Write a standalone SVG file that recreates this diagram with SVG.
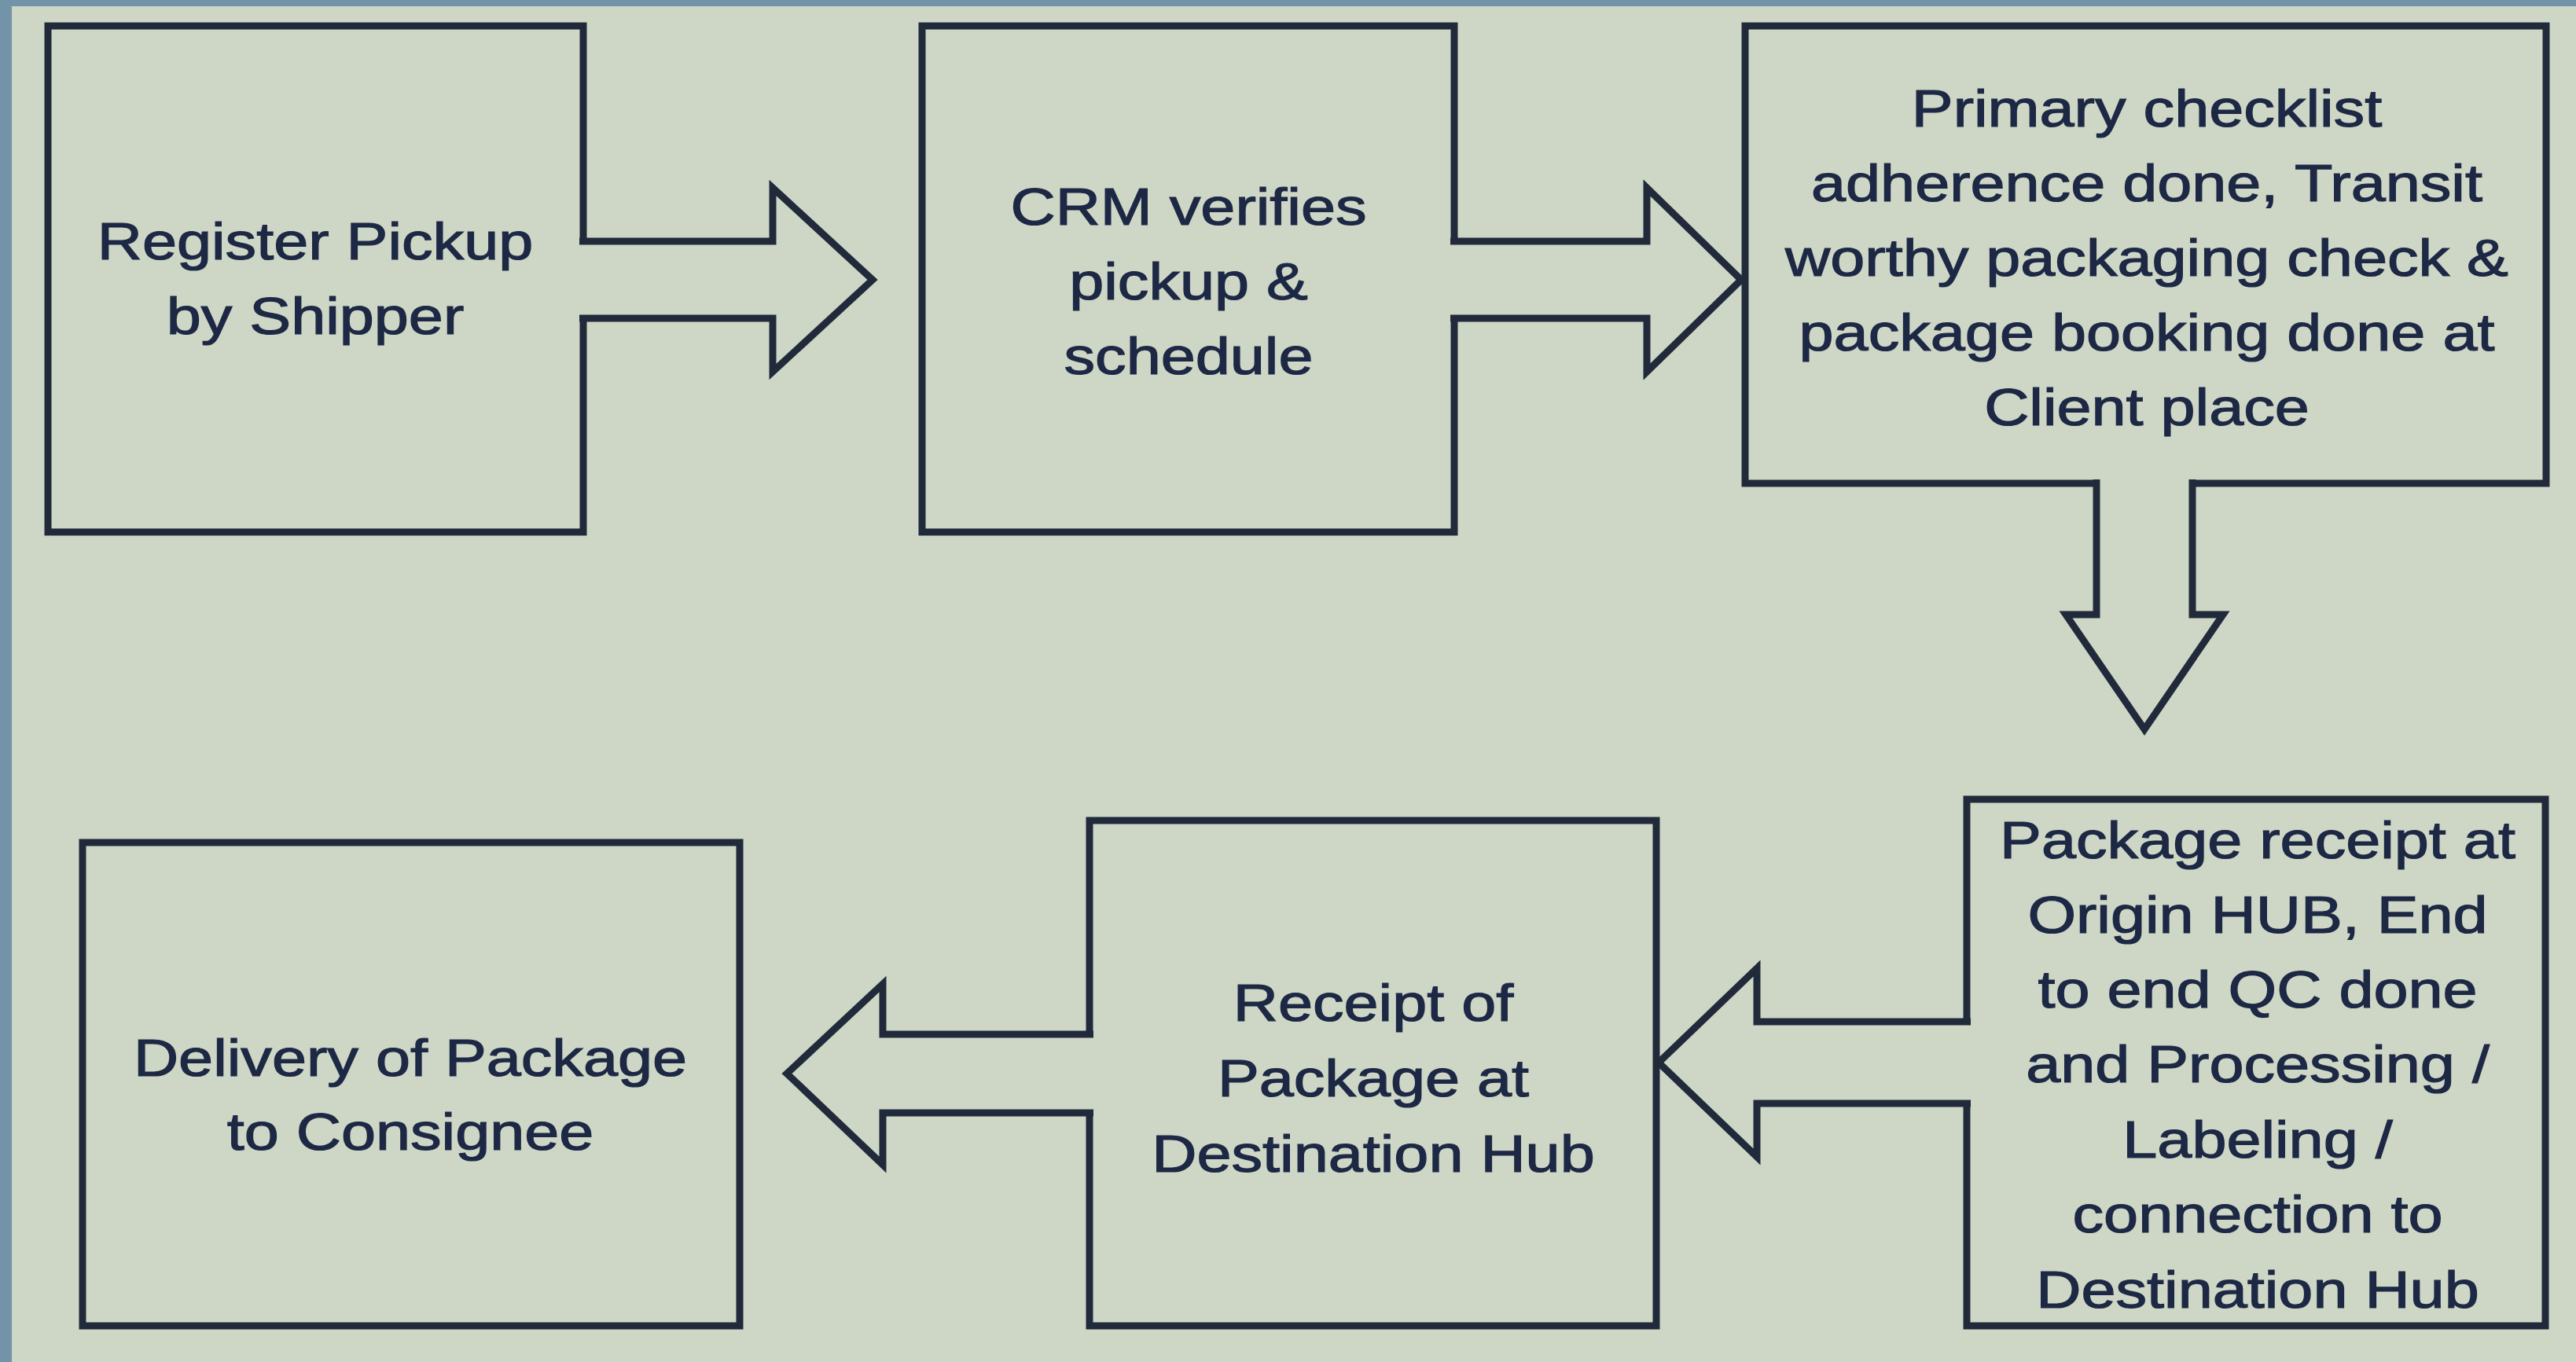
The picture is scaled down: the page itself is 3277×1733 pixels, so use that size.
<svg xmlns="http://www.w3.org/2000/svg" width="3277" height="1733" viewBox="0 0 3277 1733">
<style>
.box{fill:none;stroke:#212a3b;stroke-width:9;stroke-linejoin:miter}
.arr{fill:#ced6c6;stroke:#212a3b;stroke-width:9;stroke-linejoin:miter}
.t{font-family:"Liberation Sans",Arial,sans-serif;font-size:66px;fill:#1d2845;stroke:#1d2845;stroke-width:1.2;text-anchor:middle}
</style>
<rect x="0" y="0" width="3277" height="1733" fill="#ced6c6"/>
<rect x="0" y="0" width="3277" height="8" fill="#7393a8"/>
<rect x="0" y="0" width="15" height="1733" fill="#7393a8"/>

<g id="node-register">
<rect class="box" x="61" y="33" width="681" height="644"/>
<g transform="translate(401 0) scale(1.2 1)"><text class="t" x="0" y="330">Register Pickup</text><text class="t" x="0" y="425">by Shipper</text></g>
</g>
<g id="node-crm">
<rect class="box" x="1173" y="33" width="677" height="644"/>
<g transform="translate(1512 0) scale(1.2 1)"><text class="t" x="0" y="286">CRM verifies</text><text class="t" x="0" y="381">pickup &amp;</text><text class="t" x="0" y="476">schedule</text></g>
</g>
<g id="node-checklist">
<rect class="box" x="2220" y="33" width="1019" height="582"/>
<g transform="translate(2731 0) scale(1.2 1)"><text class="t" x="0" y="161">Primary checklist</text><text class="t" x="0" y="256">adherence done, Transit</text><text class="t" x="0" y="351">worthy packaging check &amp;</text><text class="t" x="0" y="446">package booking done at</text><text class="t" x="0" y="541">Client place</text></g>
</g>
<g id="node-origin-hub">
<rect class="box" x="2502" y="1017" width="736" height="670"/>
<g transform="translate(2872 0) scale(1.2 1)"><text class="t" x="0" y="1092">Package receipt at</text><text class="t" x="0" y="1187">Origin HUB, End</text><text class="t" x="0" y="1282">to end QC done</text><text class="t" x="0" y="1377">and Processing /</text><text class="t" x="0" y="1473">Labeling /</text><text class="t" x="0" y="1568">connection to</text><text class="t" x="0" y="1664">Destination Hub</text></g>
</g>
<g id="node-dest-hub">
<rect class="box" x="1386" y="1044" width="721" height="643"/>
<g transform="translate(1747 0) scale(1.2 1)"><text class="t" x="0" y="1299">Receipt of</text><text class="t" x="0" y="1395">Package at</text><text class="t" x="0" y="1491">Destination Hub</text></g>
</g>
<g id="node-delivery">
<rect class="box" x="105" y="1072" width="836" height="615"/>
<g transform="translate(522 0) scale(1.2 1)"><text class="t" x="0" y="1369">Delivery of Package</text><text class="t" x="0" y="1463">to Consignee</text></g>
</g>

<g id="connectors">
<path class="arr" d="M737 307 H983 V239 L1110 356 L983 473 V405 H737"/>
<path class="arr" d="M1845 307 H2095 V239 L2215 356 L2095 473 V405 H1845"/>
<path class="arr" d="M2667 610 V782 H2628 L2728 928 L2828 782 H2789 V610"/>
<path class="arr" d="M2507 1300 H2235 V1232 L2110 1352 L2235 1472 V1404 H2507"/>
<path class="arr" d="M1391 1316 H1123 V1252 L1001 1366 L1123 1482 V1416 H1391"/>
</g>
</svg>
